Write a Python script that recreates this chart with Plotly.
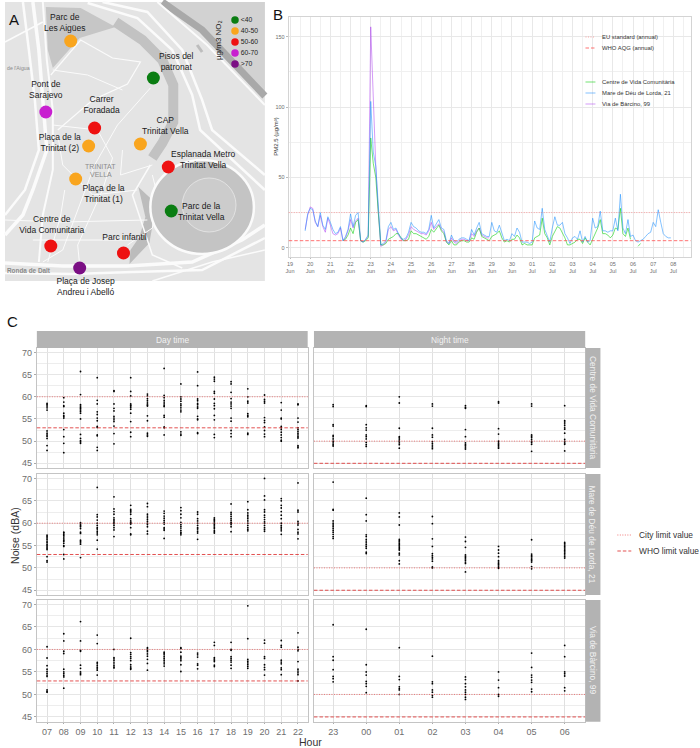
import pandas as pd
import plotly.graph_objects as go

W, H = 700, 748
FONT = "Liberation Sans"

# ---------- Panel A: sites (map coordinates) ----------
site_names = ["Parc de Les Aigües", "Pisos del patronat", "Pont de Sarajevo", "Carrer Foradada",
              "Plaça de la Trinitat (2)", "CAP Trinitat Vella", "Esplanada Metro Trinitat Vella",
              "Plaça de la Trinitat (1)", "Parc de la Trinitat Vella", "Centre de Vida Comunitaria",
              "Parc infantil", "Plaça de Josep Andreu i Abelló"]
site_x = [68, 151, 43, 92, 86, 138, 166, 73, 169, 48, 121, 77]
site_y = [41, 78, 112, 128, 146, 144, 167, 179, 211, 246, 253, 268]
site_class = ["40-50", "<40", "60-70", "50-60", "40-50", "40-50", "50-60", "40-50", "<40", "50-60", "50-60", ">70"]
no2_classes = ["<40", "40-50", "50-60", "60-70", ">70"]
no2_colors = ["#0a7d12", "#f9a51e", "#ee1111", "#c81fd0", "#7b0f84"]
no2_key_x = [233, 233, 233, 233, 233]
no2_key_y = [20, 31, 42, 53, 64]
label_x = [62, 174, 43, 99, 57, 163, 201, 101, 199, 49, 122, 83]
label_y = [23, 62, 90.5, 105, 143, 126.5, 160.5, 194, 212, 225, 238, 287.5]
label_text = ["Parc de<br>Les Aigües", "Pisos del<br>patronat", "Pont de<br>Sarajevo", "Carrer<br>Foradada",
              "Plaça de la<br>Trinitat (2)", "CAP<br>Trinitat Vella", "Esplanada Metro<br>Trinitat Vella",
              "Plaça de la<br>Trinitat (1)", "Parc de la<br>Trinitat Vella", "Centre de<br>Vida Comunitaria",
              "Parc infantil", "Plaça de Josep<br>Andreu i Abelló"]

# map backdrop geometry (decorative)
map_patches = [
    ("#c6c6c6", [(43, 7), (78, 8), (113, 27), (77, 38), (50, 68), (45, 50)]),
    ("#d2d2d2", [(165, 2), (263, 2), (263, 92)]),
    ("#bcbcbc", [(136, 187), (150, 200), (150, 226), (147, 243), (127, 264), (128, 250), (137, 237), (143, 217)]),
]
map_bands = [
    ("#c2c2c2", 10, [(113, 22), (140, 40), (160, 60), (171, 85), (171, 122), (160, 143), (150, 158)]),
    ("#a9a9a9", 7, [(160, 2), (200, 30), (263, 96)]),
    ("#bdbdbd", 3, [(195, 45), (200, 52)]),
]
map_roads = [
    (3.5, [(30, 2), (36, 50), (40, 100), (44, 150), (30, 190), (20, 215), (2, 235)]),
    (2.5, [(20, 2), (26, 50), (32, 100), (36, 150), (22, 190), (2, 215)]),
    (2, [(40, 2), (44, 60), (50, 110), (50, 170), (40, 215), (36, 262)]),
    (3.5, [(2, 263), (60, 266), (125, 266), (190, 262), (240, 240), (263, 225)]),
    (2.5, [(2, 273), (70, 274), (130, 272), (200, 270), (263, 238)]),
    (1.5, [(150, 281), (210, 262), (263, 250)]),
    (2.5, [(85, 3), (135, 18), (170, 50), (190, 95), (198, 130), (263, 190)]),
    (2.5, [(100, 2), (145, 12), (180, 50), (200, 100), (210, 130), (263, 175)]),
    (2, [(155, 2), (205, 45), (263, 105)]),
    (1.5, [(148, 165), (130, 195), (150, 255), (180, 268)]),
    (1.5, [(2, 42), (40, 22)]),
    (1.2, [(48, 75), (78, 40), (110, 58), (138, 62), (125, 84), (90, 100), (55, 130)]),
    (1, [(50, 70), (85, 75), (120, 90)]),
    (1, [(50, 125), (95, 130), (110, 158), (100, 190), (75, 245), (77, 265)]),
    (1, [(55, 135), (60, 165), (90, 195), (135, 190)]),
    (1, [(148, 88), (115, 125), (92, 165), (60, 250), (40, 262)]),
    (1, [(2, 220), (60, 222), (145, 220)]),
    (1, [(30, 240), (100, 240), (130, 240)]),
    (1, [(120, 150), (118, 175), (150, 165)]),
    (1, [(62, 190), (58, 215), (45, 262)]),
    (1, [(125, 245), (150, 228), (155, 195), (150, 175)]),
]
park_cx, park_cy, park_r = 200, 207, 52
inner_cx, inner_cy, inner_r = 207, 205, 27

# ---------- Panel B: PM2.5, 3-hourly readings ----------
days_b = ["19", "20", "21", "22", "23", "24", "25", "26", "27", "28", "29", "30",
          "01", "02", "03", "04", "05", "06", "07", "08"]
months_b = ["Jun"] * 12 + ["Jul"] * 8
mare_start = "2019-06-19 18:00"
mare_pm = [12, 24,
           28, 27, 19, 15, 25, 16, 13, 22,
           18, 13, 10, 11, 15, 5, 8, 13,
           24, 15, 23, 25, 5, 4, 6, 9,
           104, 68, 58, 28, 2, 3, 5, 15,
           18, 13, 14, 10, 7, 6, 7, 11,
           18, 15, 14, 12, 11, 11, 10, 13,
           23, 14, 17, 20, 14, 13, 5, 3,
           9, 5, 4, 6, 7, 7, 6, 5,
           13, 9, 14, 18, 10, 9, 8, 8,
           18, 12, 11, 16, 10, 5, 6, 5,
           10, 8, 14, 11, 4, 4, 4, 3,
           4, 19, 14, 13, 28, 13, 9, 4,
           14, 22, 16, 16, 18, 10, 7, 3,
           7, 8, 6, 12, 4, 8, 4, 5,
           21, 14, 15, 26, 12, 12, 11, 12,
           12, 21, 12, 38, 14, 10, 20, 8,
           9, 5, 4, 5, 6, 8, 10, 11,
           18, 15, 27, 18, 10, 8, 7, 7]
centre_start = "2019-06-21 15:00"
centre_pm = [5, 6, 9,
             14, 10, 18, 20, 5, 4, 5, 7,
             78, 60, 50, 25, 2, 2, 3, 6,
             7, 8, 10, 10, 7, 5, 5, 6,
             12, 10, 10, 9, 8, 7, 6, 8,
             13, 11, 14, 16, 12, 10, 4, 2,
             5, 2, 2, 4, 5, 5, 4, 4,
             7, 6, 11, 14, 8, 7, 6, 5,
             8, 9, 10, 12, 7, 4, 5, 4,
             6, 6, 9, 7, 2, 3, 2, 2,
             2, 7, 8, 9, 21, 10, 7, 2,
             8, 12, 15, 14, 11, 7, 2, 2,
             3, 4, 6, 6, 3, 7, 4, 2,
             6, 10, 14, 20, 10, 10, 9, 7,
             9, 14, 13, 28, 10, 8, 14, 6,
             None, None, 1, 3]
via_start = "2019-06-19 18:00"
via_pm = [13, 23,
          29, 28, 18, 15, 23, 15, 11, 21,
          16, 10, 9, 10, 14, 5, 7, 12,
          20, 14, 19, 21, 5, 4, 6, 8,
          157, 100, 58, 25, 1, 2, 4, 13,
          15, 12, 13, 9, 6, 5, 6, 9,
          15, 13, 12, 11, 10, 10, 9, 12,
          18, 13, 15, 17, 13, 11, 4, 3,
          7, 4, 3, 5, 6, 6, 5, 5,
          10, 8, 12, 14, 9, 8, 7, 7]
eu_standard = 25
who_aqg = 5
series_names = ["Centre de Vida Comunitària", "Mare de Déu de Lorda, 21", "Via de Bàrcino, 99"]
series_colors = ["rgba(0,205,0,0.55)", "rgba(30,144,255,0.55)", "rgba(160,32,240,0.45)"]

# ---------- Panel C: noise levels per hour ----------
day_hours = ["07", "08", "09", "10", "11", "12", "13", "14", "15", "16", "17", "18", "19", "20", "21", "22"]
night_hours = ["23", "00", "01", "02", "03", "04", "05", "06"]
city_day, who_day = 60, 53
city_night, who_night = 50, 45
noise_centre_day = [
    [58.5, 58.2, 57.9, 57.5, 57, 52.3, 51.8, 51.4, 51.1, 50.6, 49, 47.9],
    [59.8, 58.8, 58, 57.8, 56.3, 55.8, 55.5, 55.2, 52.6, 51, 49.5, 47.4],
    [65.7, 60.5, 58.2, 57.9, 57.6, 57.3, 57, 56.7, 56.3, 55, 51.5, 50.6, 50.1, 49.8, 49.5],
    [64.3, 59.2, 58.4, 56.6, 56, 55.2, 54.6, 53.3, 53.1, 51.4, 51.2, 48.6, 47.9],
    [61.4, 61.2, 58.4, 57.4, 56.8, 55.6, 55.2, 54.8, 54.4, 53.4, 51.7, 49.4],
    [64.3, 61.2, 60.2, 58.4, 58.1, 57.9, 57.6, 57.2, 56.3, 54.4, 52, 51],
    [60.6, 60.2, 59.6, 59.2, 58.8, 58.4, 58.1, 57.9, 55.7, 54.6, 51.8, 51.4, 51.1],
    [66.4, 60.3, 59.8, 59.2, 58.8, 58.4, 58, 57.8, 55.8, 55.4, 53.2, 53, 51.4],
    [62.9, 60, 59.5, 59, 58.4, 58, 57.5, 57, 56.6, 52.1, 51.6, 51.3],
    [65.6, 62.5, 59.5, 59.1, 58.5, 58.2, 57.7, 57.4, 55.6, 55, 54.8, 51.9, 51.7],
    [64.4, 64, 63.5, 61.2, 60.8, 59.5, 58.5, 58, 57.3, 55.8, 54.8, 51.5, 50.8],
    [63.4, 62.9, 61, 59.6, 58.8, 58.4, 57.9, 57.4, 55.2, 54.5, 52.4, 51.7, 51],
    [61.8, 60, 59, 58.6, 56.2, 55.8, 55.5, 51.8, 51.5],
    [60.4, 59.4, 59, 58.6, 55.3, 54.7, 54.2, 53.2, 52.4, 51.6, 51],
    [58.7, 57, 55.2, 55, 53.3, 53, 52.6, 52, 51.4, 50.8, 50.2, 50],
    [58.4, 58.2, 55.2, 54.3, 53, 52.6, 52.2, 51.8, 51.4, 51, 50.7, 49, 48.7, 48.5],
]
noise_mare_day = [
    [57.3, 57, 56.7, 56.4, 56, 55.7, 55.3, 55, 54.7, 54.4, 54.1, 52.5, 51.6, 51.3],
    [58, 57.8, 57.5, 57.2, 56.9, 56.5, 56.2, 55.9, 55.5, 55, 54.8, 53, 52],
    [60.1, 59.8, 59.5, 59.2, 58.8, 58, 57.7, 56.2, 55.9, 55.6, 55.3, 52.3],
    [68, 61.9, 61.4, 60.7, 60, 59.5, 59, 58.7, 58.2, 57.8, 57.4, 56.2, 54.2],
    [65.9, 63.2, 62.6, 62, 61.2, 60.8, 60.5, 60.2, 59.9, 59.5, 59, 58.5, 57],
    [64, 63.1, 62.8, 62.5, 62, 61, 60.5, 60.2, 60, 59.8, 59, 57.6, 57.4],
    [64.4, 63.7, 62, 61.6, 61.2, 60.8, 60.4, 60, 59.7, 59.2, 58.2, 57.6],
    [62.7, 62.2, 61.6, 61.1, 60.6, 60.2, 59.8, 59, 58.7, 58.4, 56.6],
    [63.5, 62.8, 62, 61.2, 60.2, 59.7, 59.3, 58.9, 58.4, 58, 57.7, 57.4],
    [62.5, 62, 61, 60.5, 60, 59.5, 59, 58.7, 58.2, 57.8, 56.4],
    [61.2, 60.9, 60.6, 60.3, 60, 59.7, 59.4, 59.1, 58.8, 58.4, 58.1, 57.8],
    [64.3, 62.4, 62, 61.5, 61, 60.6, 60.2, 60, 59.7, 59.2, 58.1],
    [64.8, 63, 62.3, 61.8, 61.4, 61, 60.5, 60, 59.5, 59, 58.6, 58.3],
    [70, 66.1, 65.2, 63, 62.5, 61.8, 61.3, 60.8, 60.3, 60, 59.5, 59, 58.6, 58.2],
    [65.5, 65, 64, 63.4, 62.6, 61.8, 61, 60, 59.5, 59.1, 58.7, 58.3, 57.5],
    [69, 62.9, 62.5, 60.4, 60, 59.6, 58.6, 58, 57.6, 56.5],
]
noise_via_day = [
    [60.6, 58.1, 56.4, 55.6, 55.1, 54.7, 54.3, 54, 51, 50.7, 50.5],
    [63.5, 61.9, 59.6, 59.1, 55.6, 55, 54.6, 54.2, 53.9, 51.4],
    [66.2, 61.9, 59.8, 59.6, 56.5, 55.8, 55, 54.7, 54.4],
    [63.2, 61.3, 57.1, 56.8, 56.4, 56, 55.7, 55.4, 54.3],
    [60, 58.2, 57.9, 57.5, 57, 56.5, 56.1, 55.9],
    [62.5, 59.3, 58.9, 58.4, 58, 57.5, 56.6, 56.1, 55.8, 55.6],
    [60.4, 60.1, 59.8, 59.5, 59, 58.5, 57.8, 56.9, 55.4],
    [59.4, 59.1, 58.8, 58.4, 58, 57.6, 57.2, 56.8, 56.3],
    [60.4, 60.2, 59.4, 58.5, 58.2, 57.9, 57.5, 56.6, 55.1],
    [59.2, 58.8, 58.3, 56.8, 56.5, 55.7],
    [61.6, 60.9, 58.2, 57.9, 57.6, 57.3, 56.5, 56.2],
    [61.6, 60, 59.8, 58.4, 58, 57.6, 57.2, 56.5, 55.8],
    [69.7, 62.4, 57.8, 57.4, 57, 56.6, 56.2, 55.8],
    [62.1, 61.4, 58.4, 58, 56.6, 56, 55.5, 54.3],
    [62, 60.9, 60.5, 57.6, 57.2, 56.8, 55.9, 55.5, 54.4],
    [63.7, 60.5, 60, 59.7, 57.3, 55.6, 55.2, 54.8, 54.4, 53],
]
noise_centre_night = [
    [58.2, 57.8, 53.7, 53.4, 51.3, 51, 50.5, 50, 49.6, 49.2, 48.9],
    [58, 57.8, 53.7, 53, 52.5, 51.4, 51, 50.5, 49.7, 49.2, 48.8],
    [60, 58.6, 52.9, 51, 50.7, 50.3, 50, 49.6, 49.2, 48.4],
    [58.4, 57.9, 52.9, 51.4, 50.9, 49.9, 49.5, 49.1, 48.7, 48.3],
    [58, 57.6, 57.4, 52.6, 51, 49.6, 49.2, 48.9, 48.5, 48.2],
    [58.9, 58.6, 52.8, 51.6, 50, 49.6, 49.3, 49, 48.7, 48.4],
    [58.4, 57.9, 51.4, 51.1, 50.8, 50.4, 50, 49.7, 49.3, 47.7],
    [58, 54.6, 54.3, 53.9, 53.5, 53, 52.7, 51.8, 50.4, 50, 49.6, 49.3, 47.8],
]
noise_mare_night = [
    [69.2, 63.1, 62.9, 60.5, 60, 59.6, 59.2, 58.8, 58.4, 58, 57.5, 57, 56.6],
    [65.6, 61.9, 60.5, 57.4, 57, 56.4, 56, 55.6, 55.2, 54.8, 54.4, 53.5, 53.2],
    [62.3, 61.4, 59.6, 56.4, 56.1, 55.8, 55.5, 55.2, 54.9, 54.6, 54.3, 54, 53.3, 52.9, 51.6, 50.9],
    [61.5, 59.9, 56.5, 54.8, 53.2, 52.8, 52.4, 52, 51.5, 50.2, 50],
    [56.9, 55.9, 54.6, 52.9, 52.6, 52.3, 52, 51.7, 51.3, 51, 49.1],
    [54.8, 54, 53.3, 52.5, 51.6, 51.3, 51, 50.7, 50.4, 50.1, 49.9],
    [56.3, 53.1, 52.8, 52.5, 52.2, 51.9, 51.6, 51.3, 50.3, 49.8],
    [55.7, 55.4, 55.1, 54.8, 54.5, 54.2, 53.9, 53.6, 53.3, 52.9, 52.5, 52.2],
]
noise_via_night = [
    [65.5, 58.4, 57.6, 55.5, 54, 53.5, 52.8],
    [64.5, 56.6, 55, 54.3, 52.9, 52.4, 51.8, 50.4],
    [60.4, 54, 53.3, 51.7, 51.3, 51, 50],
    [58.5, 52.8, 52.4, 51, 50.5, 49.8, 49.4],
    [53.9, 53.3, 52.4, 51.7, 51, 50.5, 50, 49.4, 48.9],
    [55, 53.2, 51.5, 50, 49.6],
    [59.2, 56, 54.3, 53.8, 53.2, 52.7, 51.2, 50.6],
    [60.9, 58.4, 55, 54.6, 54.1, 51.5, 50.8],
]
site_strips = ["Centre de Vida Comunitària", "Mare de Déu de Lorda, 21", "Via de Bàrcino, 99"]


# ---------- helpers ----------
def px(x):
    return x / W


def py(y):
    return 1 - y / H


def xdom(a, b):
    return [px(a), px(b)]


def ydom(top, bottom):
    return [py(bottom), py(top)]


def poly(pts, close=False):
    s = "M " + " L ".join(f"{a},{b}" for a, b in pts)
    return s + (" Z" if close else "")


fig = go.Figure()
shapes, ann = [], []
DOT = "1px,1.5px"
DASH = "3.5px,2px"
CITY_LINE = dict(color="rgba(235,70,70,0.8)", width=0.9, dash=DOT)
WHO_LINE = dict(color="rgba(220,40,40,0.9)", width=0.9, dash=DASH)


def text(x, y, t, size, color="#222222", anchor="center", angle=0, **kw):
    ann.append(dict(x=px(x), y=py(y), xref="paper", yref="paper", text=t, showarrow=False,
                    font=dict(family=FONT, size=size, color=color), xanchor=anchor, yanchor="middle",
                    textangle=angle, **kw))


# ---------- panel A ----------
map_x, map_y = "x", "y"
mk = dict(xref=map_x, yref=map_y, layer="below")
shapes.append(dict(type="rect", x0=2, y0=2, x1=263, y1=281, fillcolor="#e4e4e4", line_width=0, **mk))
for col, pts in map_patches:
    shapes.append(dict(type="path", path=poly(pts, True), fillcolor=col, line_width=0, **mk))
for col, w, pts in map_bands:
    shapes.append(dict(type="path", path=poly(pts), line=dict(color=col, width=w), **mk))
for w, pts in map_roads:
    shapes.append(dict(type="path", path=poly(pts), line=dict(color="#fbfbfb", width=w), **mk))
shapes.append(dict(type="circle", x0=park_cx - park_r, x1=park_cx + park_r, y0=park_cy - park_r + 5,
                   y1=park_cy + park_r - 5, fillcolor="#c4c4c4", line=dict(color="#fbfbfb", width=2.5), **mk))
shapes.append(dict(type="circle", x0=inner_cx - inner_r, x1=inner_cx + inner_r, y0=inner_cy - inner_r,
                   y1=inner_cy + inner_r, fillcolor="#cccccc", line=dict(color="#e8e8e8", width=0.8), **mk))
class_color = dict(zip(no2_classes, no2_colors))
fig.add_trace(go.Scatter(x=site_x, y=site_y, mode="markers", text=site_names, showlegend=False, xaxis="x", yaxis="y",
                         marker=dict(size=13, color=[class_color[c] for c in site_class], line_width=0)))
fig.add_trace(go.Scatter(x=label_x, y=label_y, mode="text", text=label_text, showlegend=False, xaxis="x", yaxis="y",
                         textfont=dict(family=FONT, size=8.5, color="#1a1a1a"), textposition="middle center"))
fig.add_trace(go.Scatter(x=no2_key_x, y=no2_key_y, mode="markers+text", text=no2_classes, showlegend=False,
                         xaxis="x", yaxis="y", textposition="middle right",
                         textfont=dict(family=FONT, size=6.8, color="#222222"),
                         marker=dict(size=7.5, color=no2_colors, line_width=0)))
text(217, 40, "µg/m3 NO₂", 8, angle=-90)
text(98, 166, "TRINITAT", 7, "#8c8c8c")
text(98, 175, "VELLA", 7, "#8c8c8c")
text(26, 270, "<b>Ronda de Dalt</b>", 6.4, "#8a8a8a")
text(16, 68, "de l'Aigua", 5.2, "#8a8a8a")
text(11, 20, "A", 15, "#111111")
text(276, 15, "B", 15, "#111111")
text(10, 321, "C", 15, "#111111")

# ---------- panel B ----------
for name, start, vals, col in [(series_names[2], via_start, via_pm, series_colors[2]),
                               (series_names[0], centre_start, centre_pm, series_colors[0]),
                               (series_names[1], mare_start, mare_pm, series_colors[1])]:
    fig.add_trace(go.Scatter(x=pd.date_range(start, periods=len(vals), freq="3h"), y=vals, mode="lines", name=name,
                             line=dict(color=col, width=1), showlegend=False, xaxis="x2", yaxis="y2",
                             connectgaps=False))
tick_dates = pd.date_range("2019-06-19", periods=len(days_b), freq="D")
EU_LINE = dict(color="rgba(255,90,90,0.65)", width=0.8, dash=DOT)
AQG_LINE = dict(color="rgba(255,70,70,0.85)", width=0.9, dash=DASH)
shapes.append(dict(type="line", xref="x2 domain", yref="y2", x0=0, x1=1, y0=eu_standard, y1=eu_standard, line=EU_LINE))
shapes.append(dict(type="line", xref="x2 domain", yref="y2", x0=0, x1=1, y0=who_aqg, y1=who_aqg, line=AQG_LINE))
# legend of panel B
shapes.append(dict(type="rect", xref="paper", yref="paper", x0=px(578), x1=px(677), y0=py(117), y1=py(27),
                   fillcolor="white", line_width=0, layer="between"))
b_rows = [(37, "EU standard (annual)", EU_LINE),
          (48, "WHO AQG (annual)", AQG_LINE),
          (82, series_names[0], dict(color=series_colors[0], width=1)),
          (93, series_names[1], dict(color=series_colors[1], width=1)),
          (104, series_names[2], dict(color=series_colors[2], width=1))]
for yy, t, ln in b_rows:
    shapes.append(dict(type="line", xref="paper", yref="paper", x0=px(585), x1=px(595), y0=py(yy), y1=py(yy), line=ln))
    text(600, yy, t, 5.9, "#333333", anchor="left")
text(274, 137, "PM2.5 (µg/m³)", 6, "#333333", angle=-90)

# ---------- panel C ----------
noise_grid = [[noise_centre_day, noise_centre_night], [noise_mare_day, noise_mare_night], [noise_via_day, noise_via_night]]
rows = [(348, 468), (474, 595), (600, 721.7)]
cols = [(34, 306), (312.3, 584.7)]
hours = [day_hours, night_hours]
xr = [[-0.61, 15.58], [-0.58, 7.62]]
limits = [(city_day, who_day), (city_night, who_night)]
layout_axes = {}
n = 3
for r, (top, bottom) in enumerate(rows):
    for c, (left, right) in enumerate(cols):
        ax = f"x{n}"
        ay = f"y{n}"
        xs, ys = [], []
        for h, vals in zip(hours[c], noise_grid[r][c]):
            xs += [h] * len(vals)
            ys += vals
        fig.add_trace(go.Scatter(x=xs, y=ys, mode="markers", showlegend=False, xaxis=ax, yaxis=ay,
                                 marker=dict(size=1.8, color="black", line_width=0)))
        layout_axes[f"xaxis{n}"] = dict(
            domain=xdom(left, right), anchor=ay, type="category", categoryorder="array", categoryarray=hours[c],
            range=xr[c], showgrid=True, gridcolor="#e0e0e0", gridwidth=1, zeroline=False,
            showline=True, mirror=True, linecolor="#c4c4c4", linewidth=1,
            showticklabels=r == 2, ticks="outside" if r == 2 else "", ticklen=1, tickcolor="#aaaaaa",
            tickfont=dict(family=FONT, size=9, color="#6e6e6e"))
        layout_axes[f"yaxis{n}"] = dict(
            domain=ydom(top, bottom), anchor=ax, range=[43.94, 71], tickvals=[45, 50, 55, 60, 65, 70],
            showgrid=True, gridcolor="#e6e6e6", gridwidth=1, zeroline=False,
            minor=dict(showgrid=True, tickvals=[47.5, 52.5, 57.5, 62.5, 67.5], gridcolor="#ededed", gridwidth=0.7),
            showline=True, mirror=True, linecolor="#c4c4c4", linewidth=1,
            showticklabels=c == 0, ticks="outside" if c == 0 else "", ticklen=2, tickcolor="#aaaaaa",
            tickfont=dict(family=FONT, size=9, color="#6e6e6e"))
        city, who = limits[c]
        shapes.append(dict(type="line", xref=f"{ax} domain", yref=ay, x0=0, x1=1, y0=city, y1=city, line=CITY_LINE))
        shapes.append(dict(type="line", xref=f"{ax} domain", yref=ay, x0=0, x1=1, y0=who, y1=who, line=WHO_LINE))
        n += 1
    shapes.append(dict(type="rect", xref="paper", yref="paper", x0=px(585), x1=px(600), y0=py(bottom), y1=py(top),
                       fillcolor="#b3b3b3", line_width=0))
    text(592.5, (top + bottom) / 2, site_strips[r], 8.4, "#f2f2f2", angle=90)
for (left, right), lab in zip(cols, ["Day time", "Night time"]):
    shapes.append(dict(type="rect", xref="paper", yref="paper", x0=px(left), x1=px(right), y0=py(348), y1=py(331),
                       fillcolor="#b3b3b3", line_width=0))
    text((left + right) / 2, 339.5, lab, 8.4, "#f2f2f2")
text(12, 535, "Noise (dBA)", 10.5, "#333333", angle=-90)
text(309, 742, "Hour", 10.5, "#333333")
for yy, t, ln in [(535, "City limit value", CITY_LINE), (551, "WHO limit value", WHO_LINE)]:
    shapes.append(dict(type="line", xref="paper", yref="paper", x0=px(617), x1=px(631), y0=py(yy), y1=py(yy), line=ln))
    text(637, yy, t, 8.4, "#333333", anchor="left")

fig.update_layout(
    width=W, height=H, margin=dict(l=0, r=0, t=0, b=0), paper_bgcolor="white", plot_bgcolor="white",
    showlegend=False, shapes=shapes, annotations=ann, font=dict(family=FONT),
    xaxis=dict(domain=xdom(0, 270), range=[0, 270], visible=False, anchor="y", fixedrange=True),
    yaxis=dict(domain=ydom(0, 310), range=[310, 0], visible=False, anchor="x", fixedrange=True),
    xaxis2=dict(domain=xdom(287, 690.7), anchor="y2", type="date",
                range=["2019-06-18 22:30", "2019-07-08 20:40"],
                tickvals=list(tick_dates), ticktext=[f"{d}<br>{m}" for d, m in zip(days_b, months_b)], tickangle=0,
                showgrid=True, gridcolor="#e8e8e8", gridwidth=1, zeroline=False,
                minor=dict(showgrid=True, dtick=43200000, tick0="2019-06-19 12:00", gridcolor="#f0f0f0", gridwidth=0.8),
                showline=True, mirror=True, linecolor="#d4d4d4", linewidth=1, ticks="outside", ticklen=1,
                tickcolor="#bbbbbb", tickfont=dict(family=FONT, size=5.5, color="#6e6e6e")),
    yaxis2=dict(domain=ydom(17, 257), anchor="x2", range=[-6.6, 164], tickvals=[0, 50, 100, 150],
                showgrid=True, gridcolor="#e8e8e8", gridwidth=1, zeroline=False,
                minor=dict(showgrid=True, tickvals=[25, 75, 125], gridcolor="#f0f0f0", gridwidth=0.8),
                showline=True, mirror=True, linecolor="#d4d4d4", linewidth=1, ticks="outside", ticklen=2,
                tickcolor="#bbbbbb", tickfont=dict(family=FONT, size=5.5, color="#6e6e6e")),
    **layout_axes,
)
fig.write_html("out.html", config={"displayModeBar": False},
               post_script="document.body.style.margin='0';window.dispatchEvent(new Event('resize'));")
